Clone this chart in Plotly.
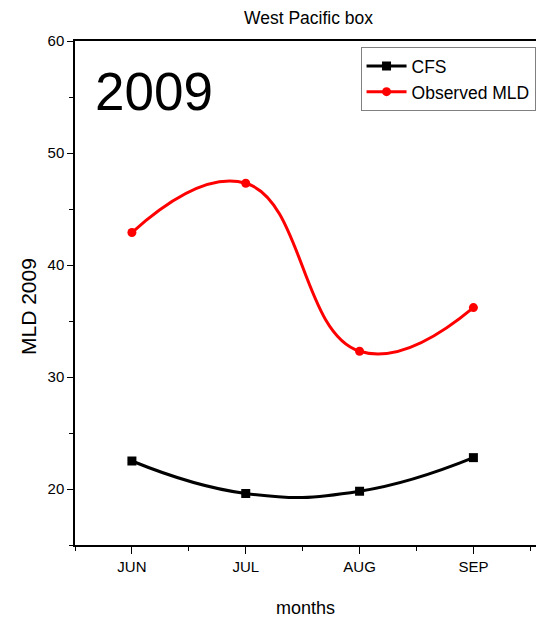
import plotly.graph_objects as go

months = ["JUN", "JUL", "AUG", "SEP"]
cfs = [22.5, 19.6, 19.8, 22.8]
observed = [42.9, 47.3, 32.3, 36.2]

FONT = "Liberation Sans, Arial"
xs = list(range(len(months)))

L, R, T, B = 75, 0, 41, 76
W, H = 536, 621
PW, PH = W - L - R, H - T - B

fig = go.Figure()
fig.add_trace(go.Scatter(
    x=xs, y=cfs, name="CFS", mode="lines+markers",
    line=dict(color="black", width=3, shape="spline", smoothing=1.3),
    marker=dict(symbol="square", size=9, color="black"),
))
fig.add_trace(go.Scatter(
    x=xs, y=observed, name="Observed MLD", mode="lines+markers",
    line=dict(color="red", width=3, shape="spline", smoothing=1.3),
    marker=dict(symbol="circle", size=9, color="red"),
))

fig.update_layout(
    width=W, height=H,
    margin=dict(l=L, r=R, t=T, b=B, autoexpand=False),
    paper_bgcolor="white", plot_bgcolor="white",
    font=dict(family=FONT, color="black"),
    title=dict(text="West Pacific box", x=308.5 / W, xanchor="center",
               y=1 - 18 / H, yanchor="middle", font=dict(size=17.5, family=FONT)),
    showlegend=True,
    legend=dict(x=0.999, y=0.988, xanchor="right", yanchor="top",
                bordercolor="#808080", borderwidth=1, bgcolor="white",
                font=dict(size=17.5, family=FONT), itemwidth=40,
                tracegroupgap=0),
    annotations=[
        dict(text="2009", x=0.04, y=0.90, xref="paper", yref="paper",
             xanchor="left", yanchor="middle", showarrow=False,
             font=dict(size=53, family=FONT)),
        dict(text="MLD 2009", x=(28 - L) / PW, y=(H - B - 307) / PH,
             xref="paper", yref="paper",
             xanchor="center", yanchor="middle", showarrow=False, textangle=-90,
             font=dict(size=21, family=FONT)),
    ],
)

fig.update_xaxes(
    range=[-0.5, 3.55], tickvals=xs, ticktext=months,
    showline=True, linecolor="black", linewidth=1.5, mirror=True,
    ticks="outside", ticklen=7, tickcolor="black",
    minor=dict(tickvals=[-0.5, 0.5, 1.5, 2.5, 3.5], ticks="outside", ticklen=4, tickcolor="black"),
    showgrid=False, zeroline=False,
    tickfont=dict(size=15, family=FONT),
    title=dict(text="months", font=dict(size=18, family=FONT), standoff=28),
)
fig.update_yaxes(
    range=[15, 60], tickvals=[20, 30, 40, 50, 60],
    showline=True, linecolor="black", linewidth=1.5, mirror=False,
    ticks="outside", ticklen=6, tickcolor="black",
    minor=dict(tickvals=[15, 25, 35, 45, 55], ticks="outside", ticklen=4, tickcolor="black"),
    showgrid=False, zeroline=False,
    tickfont=dict(size=15, family=FONT),
)

fig.write_html("out.html")
